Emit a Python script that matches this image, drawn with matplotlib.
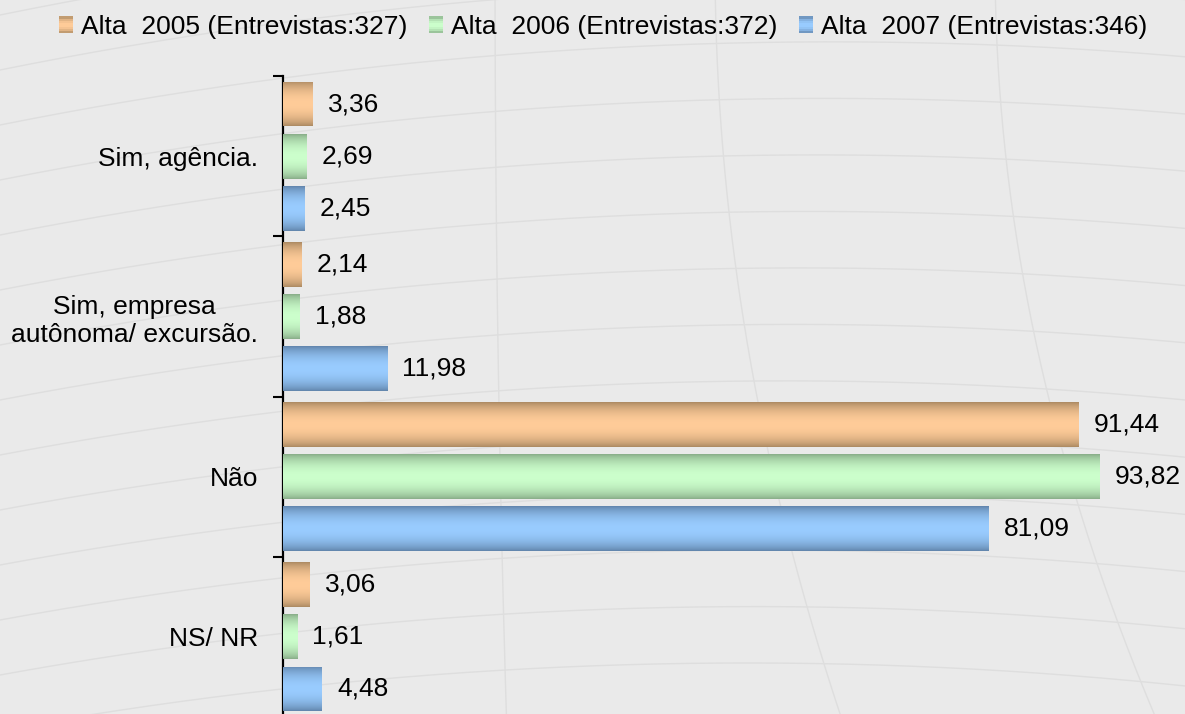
import matplotlib
matplotlib.use('Agg')
import matplotlib.pyplot as plt
import numpy as np
from matplotlib.patches import Rectangle
from matplotlib.legend_handler import HandlerBase

# ── data ──────────────────────────────────────────────────────────────
categories = ['Sim, agência.', 'Sim, empresa\nautônoma/ excursão.', 'Não', 'NS/ NR']
series_names = ['Alta  2005 (Entrevistas:327)',
                'Alta  2006 (Entrevistas:372)',
                'Alta  2007 (Entrevistas:346)']
v2005 = [3.36, 2.14, 91.44, 3.06]
v2006 = [2.69, 1.88, 93.82, 1.61]
v2007 = [2.45, 11.98, 81.09, 4.48]

# ── style ─────────────────────────────────────────────────────────────
BG = '#EAEAEA'
LIGHT = ['#FFCC99', '#CCFFCC', '#99CCFF']
DARK = ['#A6855F', '#84A884', '#5E80A6']
FONT = 'Liberation Sans'
FS = 19

plt.rcParams['font.family'] = [FONT, 'DejaVu Sans']


def hex2rgb(h):
    h = h.lstrip('#')
    return np.array([int(h[i:i + 2], 16) / 255 for i in (0, 2, 4)])


def gradient(light, dark, n=64):
    u = (np.arange(n) + 0.5) / n
    t = np.sin(np.pi * u) ** 0.7
    lo, hi = hex2rgb(dark), hex2rgb(light)
    return (lo[None, :] * (1 - t[:, None]) + hi[None, :] * t[:, None])


class GradHandler(HandlerBase):
    def create_artists(self, legend, orig_handle, xdescent, ydescent,
                       width, height, fontsize, trans):
        light, dark = orig_handle
        cols = gradient(light, dark, 8)
        arts = []
        for i, c in enumerate(cols):
            arts.append(Rectangle((-xdescent, -ydescent + i * height / 8),
                                  width, height / 8 + 0.2, facecolor=c,
                                  edgecolor='none', transform=trans))
        return arts


fig = plt.figure(figsize=(11.85, 7.14), dpi=100)
fig.patch.set_facecolor(BG)

# faint background curves
bg = fig.add_axes([0, 0, 1, 1], zorder=-5)
bg.set_xlim(0, 1185)
bg.set_ylim(714, 0)
bg.axis('off')
xs = np.linspace(0, 1185, 300)
for y0 in np.arange(-40, 820, 55):
    ys = y0 + 0.00012 * (xs - 850) ** 2 - 0.00012 * 850 ** 2 + 0.04 * y0 * xs / 1185
    bg.plot(xs, ys, color='#DEDEDE', lw=1.0, zorder=-5)
yy = np.linspace(0, 714, 200)
for x0, c in [(495, 0.00002), (715, 0.00022), (995, 0.00028)]:
    bg.plot(x0 + c * (yy + 40) ** 2, yy, color='#DEDEDE', lw=1.0, zorder=-5)

# ── main axes ─────────────────────────────────────────────────────────
ax = fig.add_axes([283 / 1185, -3 / 714, 902 / 1185, 641 / 714])
ax.set_facecolor('none')

y = np.arange(len(categories))
off = 0.325
h = 0.28
series = [v2005, v2006, v2007]

for k, vals in enumerate(series):
    bars = ax.barh(y + (k - 1) * off, vals, height=h, color=LIGHT[k],
                   edgecolor='none', zorder=2)
    grad = gradient(LIGHT[k], DARK[k])[:, None, :]
    for p in bars.patches:
        x0, y0 = p.get_x(), p.get_y()
        im = ax.imshow(grad, extent=(x0, x0 + p.get_width(), y0 + p.get_height(), y0),
                       aspect='auto', zorder=3, interpolation='bilinear')
        im.set_clip_path(p)
    ax.bar_label(bars, labels=[f'{v:.2f}'.replace('.', ',') for v in vals],
                 padding=11, fontsize=FS, color='black')

ax.set_xlim(0, 103.7)
ax.set_ylim(3.5, -0.5)

ax.set_yticks(y)
ax.set_yticklabels(categories, fontsize=FS, multialignment='center')
ax.set_yticks(np.arange(-0.5, len(categories)), minor=True)
ax.tick_params(axis='y', which='major', length=0, pad=18)
ax.tick_params(axis='y', which='minor', length=7, width=1.5, direction='out',
               color='black')
ax.set_xticks([])
for s in ['top', 'right', 'bottom']:
    ax.spines[s].set_visible(False)
ax.spines['left'].set_linewidth(1.6)
ax.spines['left'].set_color('black')

# ── legend ────────────────────────────────────────────────────────────
handles = [(LIGHT[k], DARK[k]) for k in range(3)]
fig.legend(handles, series_names, handler_map={tuple: GradHandler()},
           loc='center', bbox_to_anchor=(603 / 1185, 1 - 27 / 714), ncol=3,
           frameon=False, fontsize=FS, handlelength=0.55, handleheight=0.55,
           handletextpad=0.3, columnspacing=0.8, borderaxespad=0)

fig.savefig('out.png', dpi=100, facecolor=BG)
plt.close()
